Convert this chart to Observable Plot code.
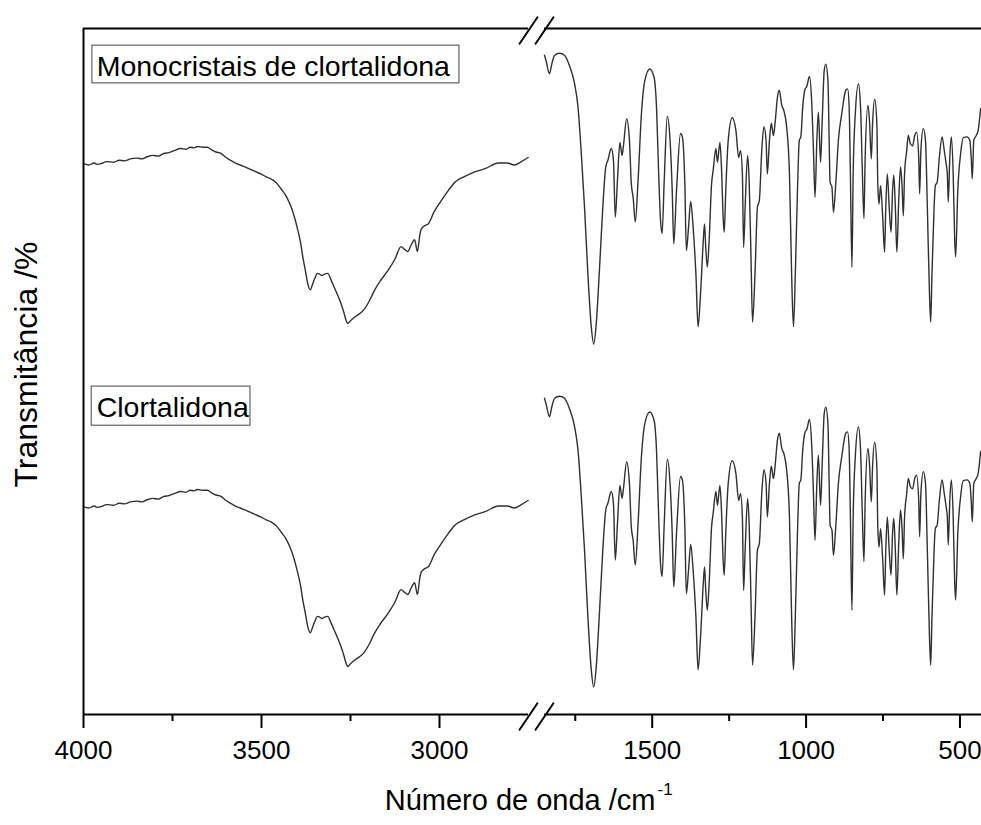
<!DOCTYPE html>
<html>
<head>
<meta charset="utf-8">
<script src="https://cdn.jsdelivr.net/npm/d3@7"></script>
<script src="https://cdn.jsdelivr.net/npm/@observablehq/plot@0.6"></script>
<style>
  html, body { margin: 0; padding: 0; background: #fff; }
  svg { display: block; }
</style>
</head>
<body>
<div id="chart"></div>
<script>
// ---------------- DATA ----------------
const seriesLabels = ["Monocristais de clortalidona", "Clortalidona"];
const xAxisTitle = "Número de onda /cm";
const xAxisSup = "-1";
const yAxisTitle = "Transmitância /%";

const majorTicks = [4000, 3500, 3000, 1500, 1000, 500];
const minorTicks = [3750, 3250, 1750, 1250, 750];

// wavenumber segments on each side of the axis break (cm-1)
const segLeft = [4000, 2750];
const segRight = [1850, 430];

// high-wavenumber region
const wnLeft = [4000,3985,3970,3962,3950,3935,3915,3900,3885,3868,3850,3835,3821,3805,3790,3774,3760,3745,3727,3712,3700,3690,3680,3665,3652,3640,3628,3614,3600,3590,3577,3560,3545,3520,3502,3488,3474,3460,3445,3430,3417,3408,3398,3390,3384,3376,3370,3363,3356,3350,3343,3337,3330,3323,3314,3305,3295,3285,3276,3268,3262,3258,3250,3239,3225,3211,3195,3183,3165,3145,3125,3108,3098,3089,3080,3070,3062,3055,3051,3040,3032,3015,2995,2975,2957,2930,2901,2870,2835,2810,2790,2770,2751];
const transMonoLeft = [80.3,80.1,80.4,80.2,80.3,80.6,80.5,80.8,80.7,81.0,81.1,81.0,81.3,81.5,81.4,81.8,81.9,82.2,82.5,82.4,82.7,82.6,82.8,82.7,82.7,82.3,82.0,81.8,81.2,80.9,80.5,80.1,79.8,79.2,78.8,78.4,78.1,77.6,76.6,75.5,74.0,72.6,70.6,68.7,66.7,64.5,62.8,61.9,62.8,63.6,64.3,64.2,64.0,64.2,64.3,63.4,62.2,61.0,59.8,58.5,57.4,57.0,57.4,57.9,58.4,59.1,60.5,61.8,63.3,64.7,66.4,68.2,67.8,67.5,68.4,69.2,67.5,70.0,70.8,71.3,71.5,73.3,74.9,76.4,77.6,78.4,79.1,79.6,80.4,80.4,80.1,80.6,81.2];
const transClorLeft = [30.3,30.1,30.4,30.2,30.3,30.6,30.5,30.8,30.7,31.0,31.1,31.0,31.3,31.5,31.4,31.8,31.9,32.2,32.5,32.4,32.7,32.6,32.8,32.7,32.7,32.3,32.0,31.8,31.2,30.9,30.5,30.1,29.8,29.2,28.8,28.4,28.1,27.6,26.6,25.5,24.0,22.6,20.6,18.7,16.7,14.5,12.8,11.9,12.8,13.6,14.3,14.2,14.0,14.2,14.3,13.4,12.2,11.0,9.8,8.5,7.4,7.0,7.4,7.9,8.4,9.1,10.5,11.8,13.3,14.7,16.4,18.2,17.8,17.5,18.4,19.2,17.5,20.0,20.8,21.3,21.5,23.3,24.9,26.4,27.6,28.4,29.1,29.6,30.4,30.4,30.1,30.6,31.2];

// fingerprint region
const wnRight = [1850,1845,1834,1826,1817,1801,1785,1769,1752,1741,1731,1720,1709,1698,1690,1682,1671,1660,1651,1644,1633,1626,1620,1613,1605,1598,1594,1583,1574,1568,1562,1555,1546,1535,1524,1508,1494,1486,1479,1473,1468,1461,1451,1442,1435,1430,1421,1408,1402,1394,1389,1382,1375,1367,1358,1351,1343,1334,1330,1326,1321,1315,1307,1302,1293,1288,1280,1275,1269,1266,1261,1253,1240,1228,1219,1213,1207,1203,1198,1190,1185,1179,1174,1166,1158,1152,1144,1137,1130,1126,1119,1113,1106,1101,1093,1087,1079,1072,1063,1054,1047,1041,1035,1028,1022,1017,1011,1003,998,989,982,976,971,965,960,953,948,941,936,929,925,922,916,911,903,895,884,871,865,860,856,851,847,840,830,823,817,812,808,799,794,788,784,777,770,767,763,758,751,745,741,736,730,724,719,715,710,705,699,693,688,684,680,673,668,661,654,647,641,634,631,627,619,612,606,599,595,591,584,580,574,567,558,551,545,541,538,533,528,522,517,514,507,498,489,477,468,463,460,455,447,441,433];
const transMonoRight = [96.1,95.3,93.4,94.9,96.1,96.4,96.1,94.6,91.9,88.5,82.2,74.0,64.2,56.5,54.0,56.9,65.2,74.4,79.8,80.8,82.5,80.8,72.5,77.8,83.4,81.5,82.7,86.8,83.7,77.4,75.4,71.8,77.8,87.6,92.4,94.1,92.9,88.5,78.8,72.0,70.1,77.8,87.2,83.7,76.4,68.6,76.4,84.7,84.2,77.4,67.6,71.0,74.8,71.0,64.2,56.5,61.3,69.1,71.5,68.1,65.2,69.1,77.4,79.3,82.5,80.5,83.4,79.8,72.0,70.3,76.4,83.7,87.0,85.1,81.2,82.2,78.8,68.1,74.0,81.5,77.8,66.7,57.2,64.2,74.0,74.9,82.2,85.7,83.7,78.8,83.7,86.2,84.4,86.1,90.0,91.0,88.8,88.0,85.6,78.8,64.2,56.5,64.2,76.4,83.7,84.2,88.5,91.2,91.5,93.0,89.5,82.2,75.4,83.7,87.8,80.5,86.1,93.9,94.8,92.4,83.7,77.6,76.9,73.2,77.8,83.7,87.6,91.0,91.2,88.5,78.8,65.2,78.8,87.6,91.9,88.5,78.8,72.3,81.2,88.8,86.6,81.0,86.1,89.7,86.1,77.4,74.4,77.1,72.5,67.4,74.0,78.8,74.0,70.3,76.4,78.6,74.0,67.4,74.9,79.8,76.9,72.7,78.8,82.2,84.4,83.2,82.9,84.4,84.9,81.2,75.9,82.2,85.4,83.7,74.0,61.3,57.2,64.2,74.0,77.1,77.6,81.2,84.2,82.2,80.3,78.8,74.7,81.2,84.2,78.8,69.1,66.7,76.4,81.7,84.1,84.2,83.7,80.8,78.1,83.7,84.4,85.1,88.3];
const transClorRight = [46.1,45.3,43.4,44.9,46.1,46.4,46.1,44.6,41.9,38.5,32.2,24.0,14.2,6.5,4.0,6.9,15.2,24.4,29.8,30.8,32.5,30.8,22.5,27.8,33.4,31.5,32.7,36.8,33.7,27.4,25.4,21.8,27.8,37.6,42.4,44.1,42.9,38.5,28.8,22.0,20.1,27.8,37.2,33.7,26.4,18.6,26.4,34.7,34.2,27.4,17.6,21.0,24.8,21.0,14.2,6.5,11.3,19.1,21.5,18.1,15.2,19.1,27.4,29.3,32.5,30.5,33.4,29.8,22.0,20.3,26.4,33.7,37.0,35.1,31.2,32.2,28.8,18.1,24.0,31.5,27.8,16.7,7.2,14.2,24.0,24.9,32.2,35.7,33.7,28.8,33.7,36.2,34.4,36.1,40.0,41.0,38.8,38.0,35.6,28.8,14.2,6.5,14.2,26.4,33.7,34.2,38.5,41.2,41.5,43.0,39.5,32.2,25.4,33.7,37.8,30.5,36.1,43.9,44.8,42.4,33.7,27.6,26.9,23.2,27.8,33.7,37.6,41.0,41.2,38.5,28.8,15.2,28.8,37.6,41.9,38.5,28.8,22.3,31.2,38.8,36.6,31.0,36.1,39.7,36.1,27.4,24.4,27.1,22.5,17.4,24.0,28.8,24.0,20.3,26.4,28.6,24.0,17.4,24.9,29.8,26.9,22.7,28.8,32.2,34.4,33.2,32.9,34.4,34.9,31.2,25.9,32.2,35.4,33.7,24.0,11.3,7.2,14.2,24.0,27.1,27.6,31.2,34.2,32.2,30.3,28.8,24.7,31.2,34.2,28.8,19.1,16.7,26.4,31.7,34.1,34.2,33.7,30.8,28.1,33.7,34.4,35.1,38.3];

// ---------------- BUILD ----------------
const font = '"Liberation Sans", Arial, Helvetica, sans-serif';
const pieces = [
  {wn: wnLeft, t: transMonoLeft},
  {wn: wnRight, t: transMonoRight},
  {wn: wnLeft, t: transClorLeft},
  {wn: wnRight, t: transClorRight}
];
const lineData = pieces.flatMap((p, k) => p.wn.map((w, i) => ({wn: w, t: p.t[i], key: k})));

const segments = [segLeft, segRight];
const frameRows = [0, 100].flatMap(y => segments.map(([a, b]) => ({y, a, b})));
const breakRows = [0, 100].flatMap(y => [segLeft[1], segRight[0]].map(w => ({wn: w, t: y})));

// legend box layout (in axis units)
const legendLayout = [
  {x1: 3975, x2: 2944, y1: 97.5, y2: 92.0, tx: 3963, ty: 94.4},
  {x1: 3977, x2: 3531, y1: 47.8, y2: 42.1, tx: 3963, ty: 44.7}
];
const legendRows = seriesLabels.map((label, i) => ({label, ...legendLayout[i]}));

const slash = {draw(context, l) { context.moveTo(0, 0); context.lineTo(0, -l); }};

const chart = Plot.plot({
  width: 981,
  height: 825,
  marginTop: 28,
  marginBottom: 111,
  marginLeft: 83,
  marginRight: 0,
  style: {fontFamily: font, background: "white", color: "black", overflow: "visible"},
  x: {type: "linear", domain: [segLeft[0], segLeft[1], segRight[0], segRight[1]], range: [83, 528, 544, 981], axis: null},
  y: {domain: [0, 100], axis: null},
  marks: [
    Plot.line(lineData, {x: "wn", y: "t", z: "key", stroke: "#303030", strokeWidth: 1.4, curve: "monotone-x"}),
    Plot.ruleY(frameRows, {y: "y", x1: "a", x2: "b", stroke: "black", strokeWidth: 2}),
    Plot.ruleX([segLeft[0]], {x: d => d, y1: () => 0, y2: () => 100, stroke: "black", strokeWidth: 2}),
    Plot.axisX({ticks: majorTicks, tickSize: 14, tickPadding: 12, tickFormat: d => String(d), fontSize: 26, strokeWidth: 2, label: null}),
    Plot.axisX({ticks: minorTicks, tickSize: 7, tickFormat: () => "", strokeWidth: 2, label: null}),
    Plot.vector(breakRows, {x: "wn", y: "t", length: 32, rotate: 34, anchor: "middle", shape: slash, stroke: "black", strokeWidth: 2, dy: 2}),
    Plot.rect(legendRows, {x1: "x1", x2: "x2", y1: "y1", y2: "y2", fill: "none", stroke: "#444", strokeWidth: 1}),
    Plot.text(legendRows, {x: "tx", y: "ty", text: "label", textAnchor: "start", fontSize: 28.5, fill: "black"}),
    Plot.text([yAxisTitle], {frameAnchor: "left", textAnchor: "middle", rotate: -90, dx: -57, dy: -7, fontSize: 32, fill: "black"}),
    Plot.text([xAxisTitle], {frameAnchor: "bottom", textAnchor: "end", dx: 123, dy: 95, fontSize: 29, fill: "black"}),
    Plot.text([xAxisSup], {frameAnchor: "bottom", textAnchor: "start", dx: 125, dy: 80, fontSize: 17, fill: "black"})
  ]
});
document.getElementById("chart").appendChild(chart);
</script>
</body>
</html>
